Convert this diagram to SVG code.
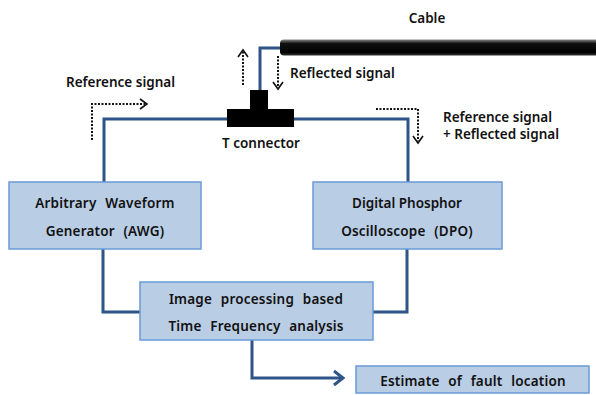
<svg xmlns="http://www.w3.org/2000/svg" width="596" height="395" viewBox="0 0 596 395">
<style>
text{font-family:"Noto Sans","Open Sans","Liberation Sans",sans-serif;font-size:13.5px;font-weight:600;fill:#111}
.bt{word-spacing:5px;letter-spacing:0.2px}
.box{fill:#b9cde5;stroke:#6a9bd8;stroke-width:1.5}
.wire{fill:none;stroke:#2f5588;stroke-width:3}
.dot{fill:none;stroke:#111;stroke-width:2;stroke-dasharray:2 1.5}
.head{fill:none;stroke:#111;stroke-width:1.6}
.mid{text-anchor:middle}
</style>
<defs>
<linearGradient id="cg" x1="0" y1="0" x2="0" y2="1">
<stop offset="0" stop-color="#888"/>
<stop offset="0.25" stop-color="#111"/>
<stop offset="0.8" stop-color="#000"/>
<stop offset="1" stop-color="#333"/>
</linearGradient>
</defs>
<rect width="596" height="395" fill="#fff"/>
<g id="connectors">
<path class="wire" d="M260,92 V48 H282"/>
<path class="wire" d="M104,182 V119 H228"/>
<path class="wire" d="M293,119 H408 V182"/>
<path class="wire" d="M103,249 V312 H141"/>
<path class="wire" d="M407,249 V312 H373"/>
<path class="wire" d="M252,340 V378 H343"/>
<path class="wire" d="M334,371 L343,378 L334,385"/>
<path class="dot" d="M243,85 V52"/>
<path class="head" d="M238,57 L243,50 L248,57"/>
<path class="dot" d="M278,56 V87"/>
<path class="head" d="M273,82 L278,89 L283,82"/>
<path class="dot" d="M92,140 V104 H145"/>
<path class="head" d="M140,99 L147,104 L140,109"/>
<path class="dot" d="M376,109 H418 V141"/>
<path class="head" d="M413,136 L418,143 L423,136"/>
</g>
<g id="cable">
<rect x="280" y="39.5" width="330" height="16" rx="4" fill="url(#cg)"/>
<text class="mid" x="427" y="23">Cable</text>
</g>
<g id="tconnector">
<rect x="250" y="90" width="18" height="20" fill="#000"/>
<rect x="227" y="109" width="67" height="18" fill="#000"/>
<text x="222" y="148">T connector</text>
</g>
<g id="labels">
<text x="290" y="78">Reflected signal</text>
<text x="66" y="87">Reference signal</text>
<text x="443" y="122">Reference signal</text>
<text x="443" y="139">+ Reflected signal</text>
</g>
<g id="awg">
<rect class="box" x="9" y="182" width="192" height="67"/>
<text class="mid bt" x="105" y="208">Arbitrary Waveform</text>
<text class="mid bt" x="105" y="236">Generator (AWG)</text>
</g>
<g id="dpo">
<rect class="box" x="313" y="182" width="189" height="67"/>
<text class="mid" x="407" y="208">Digital Phosphor</text>
<text class="mid bt" x="407" y="236">Oscilloscope (DPO)</text>
</g>
<g id="image">
<rect class="box" x="140" y="282" width="233" height="58"/>
<text class="mid bt" x="256" y="304">Image processing based</text>
<text class="mid bt" x="256" y="331">Time Frequency analysis</text>
</g>
<g id="estimate">
<rect class="box" x="356" y="366" width="233" height="27"/>
<text class="mid bt" x="473" y="386">Estimate of fault location</text>
</g>
</svg>
